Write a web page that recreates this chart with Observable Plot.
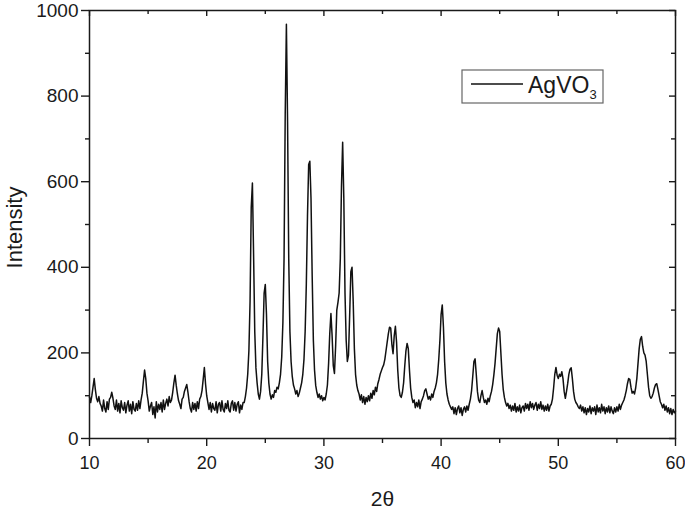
<!DOCTYPE html>
<html><head><meta charset="utf-8">
<script src="https://cdn.jsdelivr.net/npm/d3@7"></script>
<script src="https://cdn.jsdelivr.net/npm/@observablehq/plot@0.6"></script>
<style>body{margin:0;background:#fff} svg{display:block}</style>
</head><body><div id="chart"></div>
<script>
// 2θ grid: start and step (degrees)
const twoThetaStart = 10;
const twoThetaStep = 0.1;
// Intensity, one row per degree (10.0 … 60.0)
const intensity = [
  97, 84, 100, 120, 140, 114, 94, 86, 98, 82,     // 10
  76, 64, 90, 70, 62, 86, 68, 92, 96, 108,        // 11
  94, 76, 68, 90, 64, 82, 60, 88, 72, 66,         // 12
  84, 60, 78, 88, 64, 80, 58, 86, 68, 64,         // 13
  82, 66, 88, 70, 90, 106, 134, 160, 140, 106,    // 14
  88, 64, 76, 84, 56, 74, 48, 86, 62, 80,         // 15
  68, 84, 62, 90, 68, 82, 92, 76, 98, 84,         // 16
  90, 108, 130, 148, 124, 104, 88, 80, 70, 92,    // 17
  96, 110, 118, 126, 108, 86, 70, 62, 84, 68,     // 18
  82, 64, 86, 70, 92, 98, 112, 138, 166, 128,     // 19
  100, 84, 68, 84, 62, 82, 70, 66, 86, 60,        // 20
  80, 84, 64, 88, 68, 62, 82, 70, 88, 66,         // 21
  62, 82, 88, 66, 84, 64, 80, 86, 60, 78,         // 22
  68, 84, 84, 98, 118, 150, 205, 320, 540, 597,   // 23
  430, 250, 165, 130, 104, 92, 110, 150, 240, 340,// 24
  360, 290, 180, 130, 104, 92, 102, 96, 112, 108, // 25
  120, 116, 130, 150, 190, 270, 420, 760, 968, 740,// 26
  420, 250, 180, 145, 125, 116, 104, 112, 98, 106,// 27
  118, 130, 150, 185, 250, 360, 520, 640, 648, 560,// 28
  380, 230, 160, 124, 108, 96, 104, 92, 100, 88,  // 29
  96, 90, 104, 125, 175, 245, 292, 240, 170, 152, // 30
  215, 300, 318, 340, 420, 590, 692, 560, 340, 230,// 31
  180, 195, 290, 390, 400, 320, 210, 150, 125, 112,// 32
  104, 90, 102, 84, 98, 80, 96, 86, 100, 88,      // 33
  106, 94, 112, 102, 120, 110, 128, 138, 150, 158,// 34
  166, 172, 185, 205, 225, 245, 260, 258, 220, 198,// 35
  240, 262, 225, 160, 118, 100, 96, 108, 130, 170,// 36
  205, 222, 210, 160, 118, 96, 84, 90, 72, 84,    // 37
  74, 90, 70, 86, 92, 100, 112, 116, 104, 92,     // 38
  98, 90, 104, 96, 110, 118, 130, 150, 185, 230,  // 39
  290, 312, 260, 180, 130, 104, 90, 80, 74, 68,   // 40
  74, 58, 72, 56, 70, 76, 60, 72, 54, 68,         // 41
  74, 62, 76, 66, 80, 92, 112, 145, 180, 186,     // 42
  150, 110, 90, 84, 100, 112, 96, 84, 90, 80,     // 43
  94, 86, 100, 110, 126, 148, 175, 210, 245, 258, // 44
  250, 200, 150, 115, 96, 84, 76, 82, 70, 78,     // 45
  64, 76, 66, 82, 62, 74, 64, 78, 60, 72,         // 46
  76, 64, 82, 70, 80, 66, 86, 72, 82, 68,         // 47
  78, 84, 66, 80, 70, 86, 68, 78, 64, 76,         // 48
  66, 80, 64, 76, 80, 92, 118, 150, 166, 148,     // 49
  140, 150, 145, 156, 140, 110, 94, 110, 128, 150,// 50
  162, 165, 140, 110, 92, 84, 80, 74, 70, 78,     // 51
  64, 74, 60, 72, 56, 70, 62, 76, 58, 72,         // 52
  64, 74, 56, 78, 62, 72, 60, 80, 64, 74,         // 53
  58, 72, 62, 76, 60, 74, 64, 58, 72, 62,         // 54
  74, 64, 80, 68, 78, 84, 90, 100, 112, 128,      // 55
  140, 138, 120, 106, 110, 104, 118, 140, 175, 210,// 56
  232, 238, 215, 200, 195, 180, 150, 120, 100, 94,// 57
  98, 106, 118, 126, 128, 115, 100, 86, 80, 72,   // 58
  80, 66, 76, 62, 72, 58, 70, 56, 68, 60,         // 59
  64                                              // 60
];
const xMajorTicks = [10, 20, 30, 40, 50, 60];
const xMinorTicks = [15, 25, 35, 45, 55];
const yMajorTicks = [0, 200, 400, 600, 800, 1000];
const yMinorTicks = [100, 300, 500, 700, 900];
const xTitle = "2θ";
const yTitle = "Intensity";
const seriesName = "AgVO";
const seriesSub = "3";

const data = intensity.map((v, k) => ({t: +(twoThetaStart + k * twoThetaStep).toFixed(2), i: v}));
const font = "'Liberation Sans', Arial, Helvetica, sans-serif";
const ink = "#1a1a1a";
const blank = () => "";
const W = 685, H = 512, mL = 89, mR = 10, mT = 10, mB = 74;
const frameW = W - mL - mR, frameH = H - mT - mB;

const chart = Plot.plot({
  width: W, height: H,
  marginLeft: mL, marginRight: mR, marginTop: mT, marginBottom: mB,
  style: {fontFamily: font, color: ink, background: "#fff"},
  x: {domain: [10, 60]},
  y: {domain: [0, 1000]},
  marks: [
    Plot.line(data, {x: "t", y: "i", stroke: "#111", strokeWidth: 1.5, strokeLinejoin: "round"}),
    Plot.axisX({ticks: xMajorTicks, tickSize: 8, tickPadding: 10, fontSize: 18, tickFormat: d3.format("d"), label: null, strokeWidth: 1.4}),
    Plot.axisX({ticks: xMinorTicks, tickSize: 5, tickFormat: blank, label: null, strokeWidth: 1.4}),
    Plot.tickX(xMajorTicks, {x: d => d, insetBottom: frameH - 6, stroke: ink, strokeWidth: 1.4}),
    Plot.tickX(xMinorTicks, {x: d => d, insetBottom: frameH - 4, stroke: ink, strokeWidth: 1.4}),
    Plot.axisY({ticks: yMajorTicks, tickSize: 8, tickPadding: 3, fontSize: 19, tickFormat: d3.format("d"), label: null, strokeWidth: 1.4}),
    Plot.axisY({ticks: yMinorTicks, tickSize: 4, tickFormat: blank, label: null, strokeWidth: 1.4}),
    Plot.tickY(yMajorTicks, {y: d => d, insetLeft: frameW - 6, stroke: ink, strokeWidth: 1.4}),
    Plot.tickY(yMinorTicks, {y: d => d, insetLeft: frameW - 4, stroke: ink, strokeWidth: 1.4}),
    Plot.frame({stroke: ink, strokeWidth: 1.5}),
    Plot.text([xTitle], {frameAnchor: "bottom", textAnchor: "middle", lineAnchor: "middle", dy: 61, fontSize: 21, fill: ink}),
    Plot.text([yTitle], {frameAnchor: "left", textAnchor: "middle", lineAnchor: "middle", rotate: -90, dx: -75, dy: 3, fontSize: 22, fill: ink})
  ]
});

// legend box (top right, inside the frame)
const svg = d3.select(chart);
const lg = svg.append("g").attr("font-family", font).attr("text-anchor", "start");
lg.append("rect").attr("x", 462).attr("y", 70).attr("width", 141).attr("height", 33)
  .attr("fill", "#fff").attr("stroke", "#666").attr("stroke-width", 1.2);
lg.append("line").attr("x1", 471).attr("x2", 523).attr("y1", 84).attr("y2", 84)
  .attr("stroke", "#111").attr("stroke-width", 1.3);
const lt = lg.append("text").attr("x", 528).attr("y", 93).attr("font-size", 23)
  .attr("fill", ink).attr("text-anchor", "start");
lt.append("tspan").text(seriesName);
lt.append("tspan").attr("font-size", 13).attr("dy", 6).text(seriesSub);

document.getElementById("chart").append(chart);
</script>
</body></html>
